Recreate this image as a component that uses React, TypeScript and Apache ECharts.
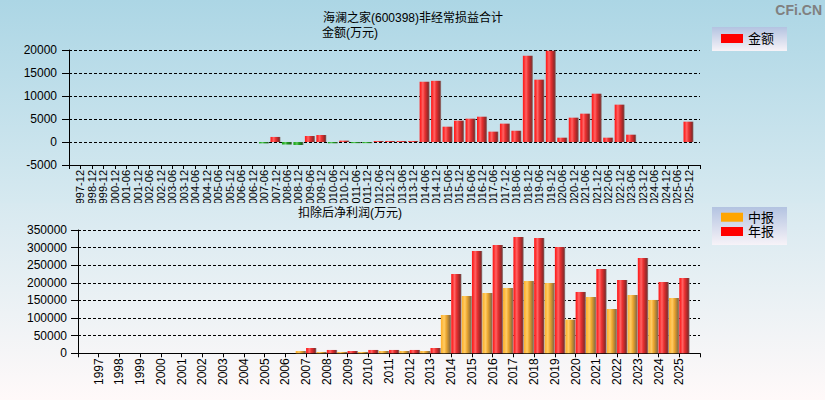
import React, { useEffect, useRef } from 'react';
import * as echarts from 'echarts';

const FONT = '"Liberation Sans", "Noto Sans CJK SC", sans-serif';

const titleText = '海澜之家(600398)非经常损益合计';
const topUnit = '金额(万元)';
const bottomUnit = '扣除后净利润(万元)';
const topLegend = '金额';
const midLegend = '中报';
const annualLegend = '年报';

const topCategories = [
  '1997-12', '1998-12', '1999-12', '2000-12',
  '2001-06', '2001-12', '2002-06', '2002-12', '2003-06', '2003-12',
  '2004-06', '2004-12', '2005-06', '2005-12', '2006-06', '2006-12',
  '2007-06', '2007-12', '2008-06', '2008-12', '2009-06', '2009-12',
  '2010-06', '2010-12', '2011-06', '2011-12', '2012-06', '2012-12',
  '2013-06', '2013-12', '2014-06', '2014-12', '2015-06', '2015-12',
  '2016-06', '2016-12', '2017-06', '2017-12', '2018-06', '2018-12',
  '2019-06', '2019-12', '2020-06', '2020-12', '2021-06', '2021-12',
  '2022-06', '2022-12', '2023-06', '2023-12', '2024-06', '2024-12',
  '2025-06', '2025-12',
];

const topValues: (number | null)[] = [
  null, null, null, null,
  null, null, null, null, null, null,
  null, null, null, null, null, null,
  -300, 1100, -550, -650, 1300, 1520,
  -280, 290, -250, -250, 220, 220,
  220, 220, 13100, 13300, 3330, 4640,
  5070, 5500, 2250, 3990, 2460, 18770,
  13550, 19860, 940, 5290, 6160, 10500,
  940, 8120, 1590, null, null, null,
  null, 4420,
];

const years = [
  '1997', '1998', '1999', '2000', '2001', '2002', '2003', '2004', '2005', '2006',
  '2007', '2008', '2009', '2010', '2011', '2012', '2013', '2014', '2015', '2016',
  '2017', '2018', '2019', '2020', '2021', '2022', '2023', '2024', '2025',
];

const midValues: (number | null)[] = [
  null, null, null, null, null, null, null, null, null, null,
  6600, 3800, 3800, 3800, 6600, 6600, 6600, 108800, 162700, 171200,
  185400, 205300, 199600, 95500, 159900, 125800, 165500, 151400, 157000,
];

const annualValues: (number | null)[] = [
  null, null, null, null, null, null, null, null, null, null,
  15100, 9500, 6600, 9500, 9500, 9500, 15100, 225100, 290400, 307400,
  330100, 327300, 301800, 174100, 239300, 208100, 270500, 202400, 213800,
];

const topAxis = { min: -5000, max: 20000, interval: 5000 };
const bottomAxis = { min: 0, max: 350000, interval: 50000 };

function hGrad(stops: [number, string][]) {
  return new echarts.graphic.LinearGradient(
    0, 0, 1, 0,
    stops.map(([offset, color]) => ({ offset, color }))
  );
}

const redGrad = () => hGrad([
  [0, '#ff1c1c'], [0.12, '#ff2a2a'], [0.32, '#ff6464'], [0.52, '#ea3030'],
  [0.82, '#982828'], [0.9, '#844040'], [1, '#a0a0a0'],
]);
const orangeGrad = () => hGrad([
  [0, '#ffb030'], [0.12, '#ffb838'], [0.32, '#ffcc66'], [0.52, '#eea830'],
  [0.82, '#a07838'], [0.9, '#8a7050'], [1, '#a0a0a0'],
]);
const greenGrad = () => hGrad([
  [0, '#20a020'], [0.15, '#28b028'], [0.35, '#60c860'], [0.55, '#209820'],
  [0.85, '#206820'], [1, '#909090'],
]);

const legendBox = () => new echarts.graphic.LinearGradient(0, 0, 0, 1, [
  { offset: 0, color: '#b3c3e1' },
  { offset: 1, color: '#f7f3f8' },
]);

const textBase = { color: '#000', fontFamily: FONT };
const plain = (v: number) => String(v);

function buildTop() {
  return {
    animation: false,
    backgroundColor: new echarts.graphic.LinearGradient(0, 0, 0, 1, [
      { offset: 0, color: '#acd6e5' },
      { offset: 1, color: '#d6e9f0' },
    ]),
    title: [
      { text: titleText, left: 323, top: 12, padding: 0, textStyle: { ...textBase, fontSize: 12, fontWeight: 'normal' } },
      { text: topUnit, left: 322, top: 27, padding: 0, textStyle: { ...textBase, fontSize: 12, fontWeight: 'normal' } },
    ],
    graphic: [
      { type: 'rect', shape: { x: 712, y: 27, width: 75, height: 24 }, style: { fill: legendBox() }, z: 0 },
      {
        type: 'text', x: 822, y: 9.5, z: 10,
        style: { text: 'CFi.CN', align: 'right', verticalAlign: 'middle', fill: '#808080', fontSize: 14, fontWeight: 'bold', fontFamily: '"Liberation Sans", sans-serif' },
      },
    ],
    legend: {
      left: 721, top: 32, padding: 0, itemWidth: 22, itemHeight: 9, itemGap: 0, selectedMode: false,
      textStyle: { ...textBase, fontSize: 13, lineHeight: 13 },
      data: [{ name: topLegend, icon: 'rect', itemStyle: { color: '#ff0000' } }],
    },
    grid: { left: 69, right: 125, top: 50, height: 115, containLabel: false, outerBoundsMode: 'none' },
    xAxis: {
      type: 'category', boundaryGap: false, data: ['', ...topCategories, ''],
      axisLine: { onZero: false, lineStyle: { color: '#000', width: 1 } },
      axisTick: { length: 4, interval: 0, lineStyle: { color: '#000' } },
      axisLabel: { ...textBase, rotate: 90, interval: 0, fontSize: 11, margin: 5 },
      splitLine: { show: false },
    },
    yAxis: {
      type: 'value', min: topAxis.min, max: topAxis.max, interval: topAxis.interval,
      axisLine: { show: true, lineStyle: { color: '#000' } },
      axisTick: { show: true, length: 7, lineStyle: { color: '#000' } },
      axisLabel: { ...textBase, fontSize: 12, margin: 12, formatter: plain },
      splitLine: { show: true, lineStyle: { type: [3, 2], color: '#000', width: 1 } },
    },
    series: [{
      type: 'bar', name: topLegend, data: [null, ...topValues, null], barWidth: '88%',
      itemStyle: { color: (p: any) => (p.value < 0 ? greenGrad() : redGrad()) },
    }],
  };
}

function buildBottom() {
  return {
    animation: false,
    backgroundColor: new echarts.graphic.LinearGradient(0, 0, 0, 1, [
      { offset: 0, color: '#d7e9f0' },
      { offset: 1, color: '#fff9f9' },
    ]),
    title: [
      { text: bottomUnit, left: 298, top: 4, padding: 0, textStyle: { ...textBase, fontSize: 12, fontWeight: 'normal' } },
    ],
    graphic: [
      { type: 'rect', shape: { x: 712, y: 4, width: 75, height: 38 }, style: { fill: legendBox() }, z: 0 },
    ],
    legend: {
      orient: 'vertical', left: 721, top: 7.7, padding: 0, itemWidth: 22, itemHeight: 9, itemGap: 1.3, selectedMode: false,
      textStyle: { ...textBase, fontSize: 13, lineHeight: 13 },
      data: [
        { name: midLegend, icon: 'rect', itemStyle: { color: '#ffa500' } },
        { name: annualLegend, icon: 'rect', itemStyle: { color: '#ff0000' } },
      ],
    },
    grid: { left: 78, right: 125, top: 27, height: 123.3, containLabel: false, outerBoundsMode: 'none' },
    xAxis: {
      type: 'category', boundaryGap: false, data: ['', ...years, ''],
      axisLine: { onZero: false, lineStyle: { color: '#000', width: 1 } },
      axisTick: { length: 4, interval: 0, lineStyle: { color: '#000' } },
      axisLabel: { ...textBase, rotate: 90, interval: 0, fontSize: 12, margin: 5 },
      splitLine: { show: false },
    },
    yAxis: {
      type: 'value', min: bottomAxis.min, max: bottomAxis.max, interval: bottomAxis.interval,
      axisLine: { show: true, lineStyle: { color: '#000' } },
      axisTick: { show: true, length: 7, lineStyle: { color: '#000' } },
      axisLabel: { ...textBase, fontSize: 12, margin: 11, formatter: plain },
      splitLine: { show: true, lineStyle: { type: [3, 2], color: '#000', width: 1 } },
    },
    series: [
      {
        type: 'bar', name: midLegend, data: [null, ...midValues, null], barGap: '0%', barCategoryGap: '0%',
        itemStyle: { color: orangeGrad() },
      },
      {
        type: 'bar', name: annualLegend, data: [null, ...annualValues, null], barGap: '0%', barCategoryGap: '0%',
        itemStyle: { color: redGrad() },
      },
    ],
  };
}

export default function App() {
  const topRef = useRef<HTMLDivElement>(null);
  const bottomRef = useRef<HTMLDivElement>(null);

  useEffect(() => {
    const top = echarts.init(topRef.current!, undefined, { renderer: 'svg' });
    const bottom = echarts.init(bottomRef.current!, undefined, { renderer: 'svg' });
    top.setOption(buildTop() as any);
    bottom.setOption(buildBottom() as any);
    return () => {
      top.dispose();
      bottom.dispose();
    };
  }, []);

  return (
    <div style={{ position: 'absolute', left: 0, top: 0, width: 825, height: 400, overflow: 'hidden' }}>
      <div ref={topRef} style={{ width: 825, height: 203, overflow: 'hidden' }} />
      <div ref={bottomRef} style={{ width: 825, height: 197, overflow: 'hidden' }} />
    </div>
  );
}
